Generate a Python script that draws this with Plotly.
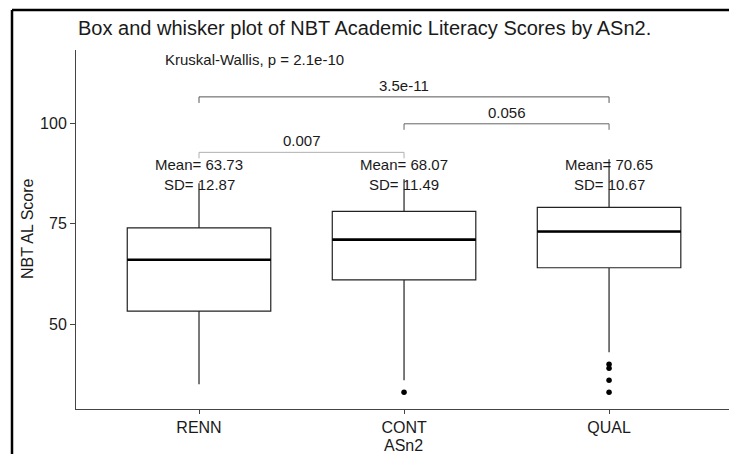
import plotly.graph_objects as go

# ---- data ----
categories = ["RENN", "CONT", "QUAL"]
q1 = [53.2, 61.0, 64.0]
medians = [66.0, 71.0, 73.0]
q3 = [73.9, 78.0, 79.0]
whisker_low = [35.0, 36.0, 43.0]
whisker_high = [85.0, 86.0, 91.0]
outlier_groups = ["CONT", "QUAL", "QUAL", "QUAL", "QUAL"]
outlier_values = [33.0, 40.0, 39.0, 36.0, 33.0]
means = [63.73, 68.07, 70.65]
sds = [12.87, 11.49, 10.67]
comparisons = [("RENN", "CONT", "0.007"), ("CONT", "QUAL", "0.056"), ("RENN", "QUAL", "3.5e-11")]
kruskal_label = "Kruskal-Wallis, p = 2.1e-10"

# ---- layout params ----
W, H = 729, 454
ML, MR, MT, MB = 76, 0, 50, 45
BOX_W = 0.7
FONT = "Liberation Sans, Arial, sans-serif"
TXT = "#1a1a1a"
xpos = {c: i + 1 for i, c in enumerate(categories)}
pw, ph = W - ML - MR, H - MT - MB


def px_x(p):  # page pixel -> paper x
    return (p - ML) / pw


def px_y(p):  # page pixel -> paper y
    return (H - MB - p) / ph


fig = go.Figure()

fig.add_trace(go.Box(
    x=[xpos[c] for c in categories],
    q1=q1, median=medians, q3=q3,
    lowerfence=whisker_low, upperfence=whisker_high,
    width=BOX_W, boxpoints=False, whiskerwidth=0,
    fillcolor="white", line=dict(color="#222222", width=1.2),
    showlegend=False, hoverinfo="skip",
))

# thick median lines
for c, m in zip(categories, medians):
    i = xpos[c]
    fig.add_trace(go.Scatter(x=[i - BOX_W / 2, i + BOX_W / 2], y=[m, m], mode="lines",
                             line=dict(color="black", width=2.6), showlegend=False, hoverinfo="skip"))

# outliers
fig.add_trace(go.Scatter(x=[xpos[g] for g in outlier_groups], y=outlier_values, mode="markers",
                         marker=dict(color="black", size=5.5), showlegend=False, hoverinfo="skip"))

# comparison brackets
bracket_y = [92.7, 99.8, 106.5]
bracket_col = ["#b0b0b0", "#666666", "#555555"]
tip = 1.5
for (a, b, lab), by, col in zip(comparisons, bracket_y, bracket_col):
    xa, xb = xpos[a], xpos[b]
    fig.add_trace(go.Scatter(x=[xa, xa, xb, xb], y=[by - tip, by, by, by - tip], mode="lines",
                             line=dict(color=col, width=1), showlegend=False, hoverinfo="skip"))
    fig.add_annotation(x=(xa + xb) / 2, y=by, text=lab, showarrow=False, yanchor="bottom",
                       yshift=1, font=dict(family=FONT, size=15, color=TXT))

# mean / sd labels
for c, m, s in zip(categories, means, sds):
    fig.add_annotation(x=xpos[c], y=89.8, text=f"Mean= {m:.2f}", showarrow=False,
                       yanchor="middle", font=dict(family=FONT, size=15, color=TXT))
    fig.add_annotation(x=xpos[c], y=84.8, text=f"SD= {s:.2f}", showarrow=False,
                       yanchor="middle", font=dict(family=FONT, size=15, color=TXT))

fig.add_annotation(xref="paper", x=px_x(163), y=115.9, text=kruskal_label, showarrow=False,
                   xanchor="left", yanchor="middle", font=dict(family=FONT, size=15, color=TXT))

# axis titles
fig.add_annotation(xref="paper", yref="paper", x=px_x(404), y=px_y(445),
                   text="ASn2", showarrow=False, yanchor="middle",
                   font=dict(family=FONT, size=16, color=TXT))
fig.add_annotation(xref="paper", yref="paper", x=px_x(28), y=px_y(228),
                   text="NBT AL Score", showarrow=False, textangle=-90, xanchor="center", yanchor="middle",
                   font=dict(family=FONT, size=16, color=TXT))

# outer frame (left + top visible)
fx = px_x(12)
fy = px_y(10)
fig.add_shape(type="line", xref="paper", yref="paper", x0=fx, x1=fx, y0=px_y(460), y1=fy,
              line=dict(color="black", width=2.5))
fig.add_shape(type="line", xref="paper", yref="paper", x0=fx, x1=1.0, y0=fy, y1=fy,
              line=dict(color="black", width=2.5))

fig.update_layout(
    width=W, height=H,
    margin=dict(l=ML, r=MR, t=MT, b=MB),
    paper_bgcolor="white", plot_bgcolor="white",
    title=dict(text="Box and whisker plot of NBT Academic Literacy Scores by ASn2.",
               xref="paper", x=px_x(78), xanchor="left", yref="container",
               y=1 - 28 / H, yanchor="middle",
               font=dict(family=FONT, size=20, color=TXT)),
    xaxis=dict(range=[0.4, 3.585], tickvals=[1, 2, 3], ticktext=categories, showgrid=False,
               zeroline=False, showline=True, linecolor="#444444", linewidth=1,
               ticks="outside", ticklen=4, tickcolor="#444444",
               tickfont=dict(family=FONT, size=16, color=TXT)),
    yaxis=dict(range=[28.86, 118.16], tickvals=[50, 75, 100], showgrid=False,
               zeroline=False, showline=True, linecolor="#444444", linewidth=1,
               ticks="outside", ticklen=5, tickcolor="#444444",
               tickfont=dict(family=FONT, size=16, color=TXT)),
)

fig.write_html("out.html",
               config={"displayModeBar": False},
               post_script="document.body.style.margin='0';document.body.style.overflow='hidden';"
                           "document.documentElement.style.overflow='hidden';")
